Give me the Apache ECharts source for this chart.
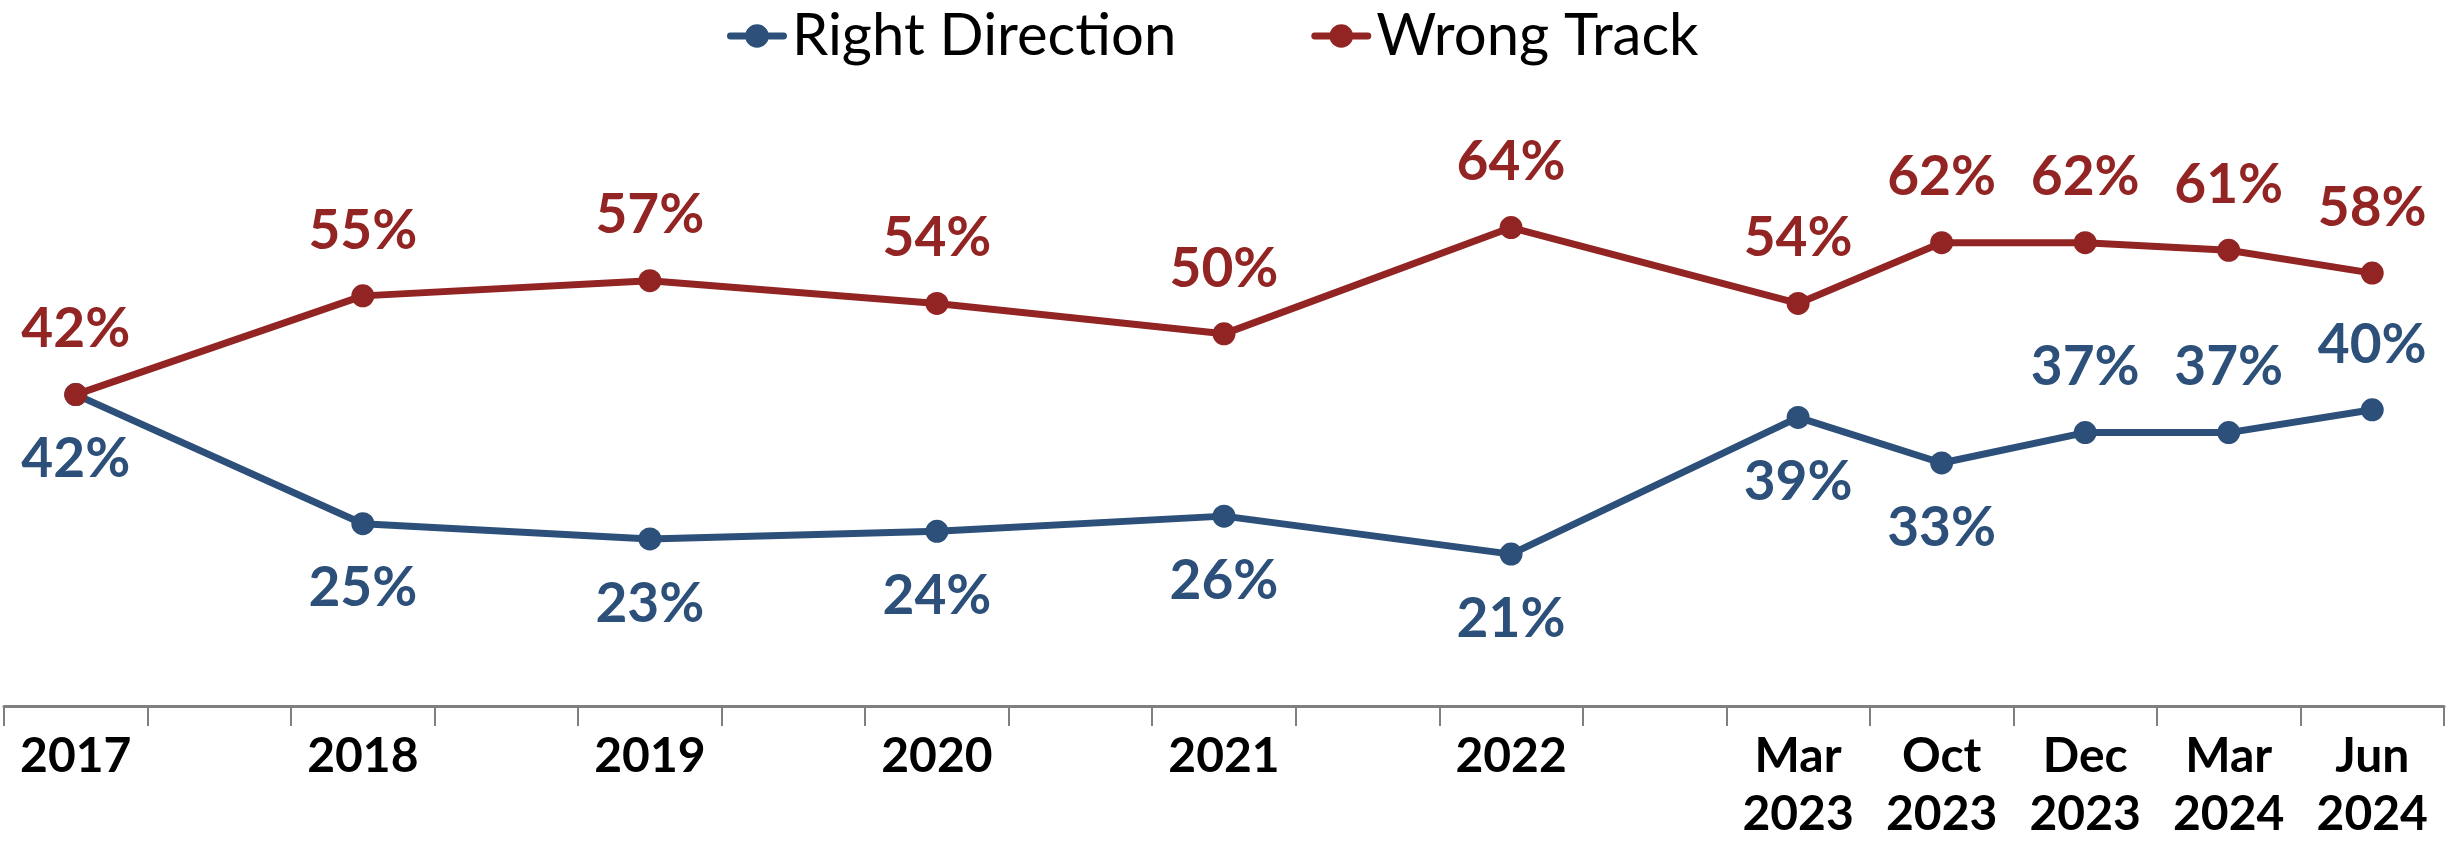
<!DOCTYPE html>
<html>
<head>
<meta charset="utf-8">
<script src="https://cdn.jsdelivr.net/npm/echarts@6/dist/echarts.min.js"></script>
<style>
html,body{margin:0;padding:0;background:#fff;}
#chart{width:2453px;height:844px;}
</style>
</head>
<body>
<div id="chart"></div>
<script>
// 17 equal slots on the category axis; blank slots keep the original uneven spacing
const categories = ['2017','','2018','','2019','','2020','','2021','','2022','','Mar\n2023','Oct\n2023','Dec\n2023','Mar\n2024','Jun\n2024'];
const rightDirection = [42,null,25,null,23,null,24,null,26,null,21,null,39,33,37,37,40];
const wrongTrack     = [42,null,55,null,57,null,54,null,50,null,64,null,54,62,62,61,58];
// slots where the Right Direction label sits above the point
const rightLabelAbove = [14,15,16];

const BLUE = '#2C5079';
const RED = '#922523';
const FONT = 'Lato, "Noto Sans", sans-serif';
// legend glyph: thick rounded line with a dot in the middle
const LEGEND_ICON = 'path://M3,8.5 L57,8.5 A3.5,3.5 0 0,1 57,15.5 L3,15.5 A3.5,3.5 0 0,1 3,8.5 Z M18,12 A12,12 0 1,1 42,12 A12,12 0 1,1 18,12 Z';

const rightData = rightDirection.map((v,i)=> {
  if (v === null) return null;
  return rightLabelAbove.includes(i) ? {value:v, label:{position:'top'}} : v;
});

const chart = echarts.init(document.getElementById('chart'));
chart.setOption({
  animation:false,
  backgroundColor:'#fff',
  legend:{
    top:2,
    left:722,
    itemGap:135,
    itemWidth:60,
    itemHeight:24,
    textStyle:{fontFamily:FONT,fontSize:58,color:'#000'},
    data:[
      {name:'Right Direction',icon:LEGEND_ICON},
      {name:'Wrong Track',icon:LEGEND_ICON}
    ]
  },
  grid:{left:4,right:9,top:106,bottom:137,containLabel:false},
  xAxis:{
    type:'category',
    data:categories,
    boundaryGap:true,
    axisLine:{lineStyle:{color:'#7F7F7F',width:3}},
    axisTick:{show:true,interval:0,length:20,lineStyle:{color:'#7F7F7F',width:2}},
    axisLabel:{interval:0,margin:22,fontFamily:FONT,fontWeight:'bold',fontSize:48,lineHeight:58,color:'#000'}
  },
  yAxis:{type:'value',min:1,max:80,show:false,splitLine:{show:false}},
  series:[
    {
      name:'Right Direction',type:'line',data:rightData,connectNulls:true,
      symbol:'circle',symbolSize:23,
      lineStyle:{color:BLUE,width:7},itemStyle:{color:BLUE},
      label:{show:true,position:'bottom',distance:26,formatter:'{c}%',fontFamily:FONT,fontWeight:'bold',fontSize:55,color:BLUE}
    },
    {
      name:'Wrong Track',type:'line',data:wrongTrack,connectNulls:true,
      symbol:'circle',symbolSize:23,
      lineStyle:{color:RED,width:7},itemStyle:{color:RED},
      label:{show:true,position:'top',distance:26,formatter:'{c}%',fontFamily:FONT,fontWeight:'bold',fontSize:55,color:RED}
    }
  ]
});
</script>
</body>
</html>
